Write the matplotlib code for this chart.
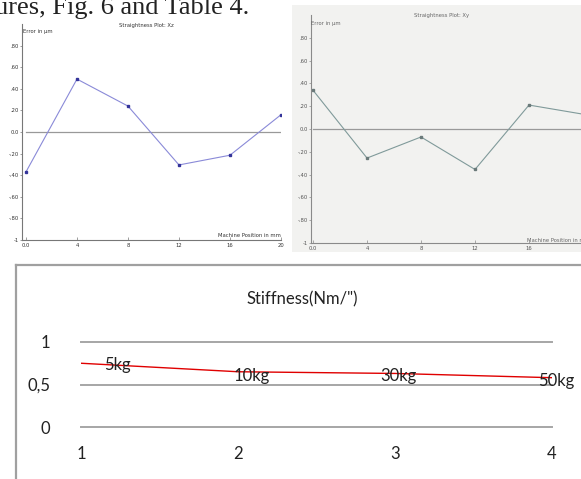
import matplotlib
matplotlib.use("Agg")
import matplotlib.pyplot as plt
from matplotlib.patches import Rectangle
from matplotlib.lines import Line2D

W, H = 581, 479

# straightness plots (scanned figures at top of the page)
positions_mm = [0, 4, 8, 12, 16, 20]
error_xz = [-0.37, 0.49, 0.24, -0.305, -0.215, 0.16]
error_xy = [0.34, -0.255, -0.07, -0.355, 0.21, 0.13]
err_ticks = [-1, -0.8, -0.6, -0.4, -0.2, 0.0, 0.2, 0.4, 0.6, 0.8]
err_tick_labels = ['-1', '-.80', '-.60', '-.40', '-.20', '0.0', '.20', '.40', '.60', '.80']
pos_tick_labels = ['0.0', '4', '8', '12', '16', '20']

# stiffness chart
trial = [1, 2, 3, 4]
stiffness = [0.75, 0.65, 0.63, 0.58]
loads = ['5kg', '10kg', '30kg', '50kg']
stiff_ticks = [0, 0.5, 1]
stiff_tick_labels = ['0', '0,5', '1']


def px(x0, y0, x1, y1):
    # pixel box (top-left origin) -> figure fraction rect
    return [x0 / W, 1 - y1 / H, (x1 - x0) / W, (y1 - y0) / H]


fig = plt.figure(figsize=(W / 100, H / 100), dpi=100)
fig.patch.set_facecolor('white')

# page text cut at the top
fig.text(-5 / W, 1 - 14 / H, 'ures, Fig. 6 and Table 4.', family='Liberation Serif',
         fontsize=19, color='#222222', ha='left', va='baseline')

# scanned background of the right figure
fig.add_artist(Rectangle((292 / W, 1 - 252 / H), 1, (252 - 5) / H, transform=fig.transFigure,
                         facecolor='#f2f2f0', edgecolor='none', zorder=0))


def straightness(rect, xlim, vals, color, mcolor, axcol, txtcol, xlabels):
    ax = fig.add_axes(rect)
    ax.set_facecolor('none')
    ax.set_xlim(*xlim)
    ax.set_ylim(-1, 1)
    for s in ['top', 'right']:
        ax.spines[s].set_visible(False)
    for s in ['left', 'bottom']:
        ax.spines[s].set_color(axcol)
        ax.spines[s].set_linewidth(0.8)
    ax.axhline(0, xmin=(0 - xlim[0]) / (xlim[1] - xlim[0]), color='#999999', lw=0.9)
    ax.plot(positions_mm, vals, color=color, lw=0.8, marker='s', ms=1.8,
            mfc=mcolor, mec=mcolor)
    ax.set_yticks(err_ticks)
    ax.set_yticklabels(err_tick_labels)
    ax.set_xticks(positions_mm[:len(xlabels)])
    ax.set_xticklabels(xlabels)
    ax.tick_params(labelsize=3.8, length=1.5, width=0.5, colors=axcol, labelcolor=txtcol, pad=1)
    ax.tick_params(axis='x', direction='in', length=2, pad=2)
    return ax


ax1 = straightness(px(22, 24, 281, 240), (-0.31, 20), error_xz, '#8a8ad8', '#34349a',
                   '#777777', '#333333', pos_tick_labels)
fig.text(146 / W, 1 - 26 / H, 'Straightness Plot: Xz', fontsize=3.8, ha='center', va='center', color='#333333')
fig.text(23 / W, 1 - 31 / H, 'Error in \u00b5m', fontsize=3.8, ha='left', va='center', color='#333333')
fig.text(281 / W, 1 - 235 / H, 'Machine Position in mm', fontsize=3.8, ha='right', va='center', color='#333333')

ax2 = straightness(px(311, 15, 583, 243), (-0.15, 20), error_xy, '#809a9a', '#6a7a7a',
                   '#8a8a8a', '#555555', pos_tick_labels[:5])
fig.text(442 / W, 1 - 15 / H, 'Straightness Plot: Xy', fontsize=3.8, ha='center', va='center', color='#666666')
fig.text(311 / W, 1 - 23 / H, 'Error in \u00b5m', fontsize=3.8, ha='left', va='center', color='#666666')
fig.text(527 / W, 1 - 240 / H, 'Machine Position in mm', fontsize=3.8, ha='left', va='center', color='#666666')

# chart box border (cut at right and bottom)
fig.add_artist(Line2D([16 / W, 16 / W], [0, 1 - 265 / H], transform=fig.transFigure,
                      color='#a0a0a0', lw=1.6))
fig.add_artist(Line2D([16 / W, 1], [1 - 265 / H, 1 - 265 / H], transform=fig.transFigure,
                      color='#a0a0a0', lw=1.6))

fig.text(302 / W, 1 - 299 / H, 'Stiffness(Nm/")', family='Lato', fontsize=12,
         ha='center', va='center', color='#222222')

ax3 = fig.add_axes(px(81, 342, 552, 427))
ax3.set_facecolor('none')
ax3.set_xlim(1, 4)
ax3.set_ylim(0, 1)
for s in ax3.spines.values():
    s.set_visible(False)
for v in stiff_ticks:
    ax3.axhline(v, color='#a6a6a6', lw=1.4, zorder=1, clip_on=False)
ax3.plot(trial, stiffness, color='#e00000', lw=1.0, zorder=3)
ax3.set_yticks(stiff_ticks)
ax3.set_yticklabels(stiff_tick_labels)
ax3.set_xticks(trial)
ax3.tick_params(length=0, labelsize=12, pad=14)
ax3.tick_params(axis='y', pad=22)
for lab in ax3.get_xticklabels() + ax3.get_yticklabels():
    lab.set_family('Lato')
    lab.set_color('#222222')

label_offsets = [(23, -2), (-4, -4), (-15, -2.5), (-14, -3)]
for xv, yv, txt, (dx, dy) in zip(trial, stiffness, loads, label_offsets):
    ax3.annotate(txt, (xv, yv), xytext=(dx, dy), textcoords='offset pixels',
                 ha='left', va='center', fontsize=12, family='Lato', color='#222222',
                 annotation_clip=False, zorder=4)

fig.savefig('out.png', dpi=100)
